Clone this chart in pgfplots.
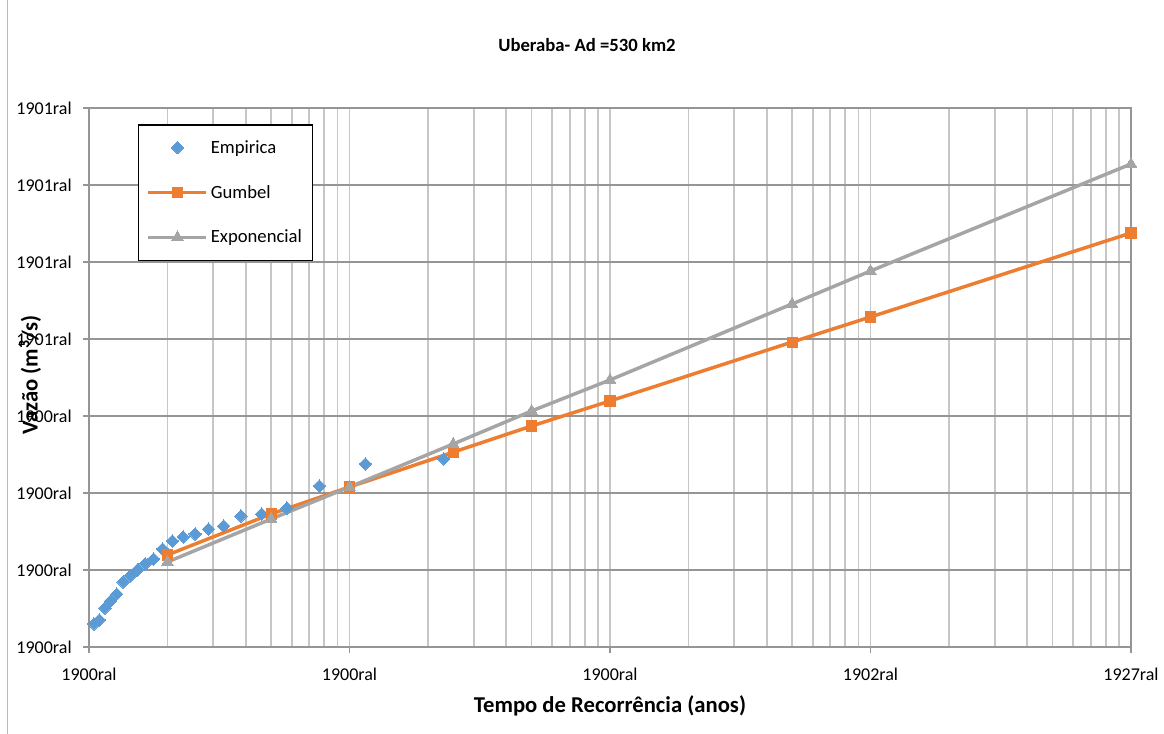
\documentclass[border=0pt]{standalone}
\usepackage{fontspec}
\setmainfont{Carlito}
\usepackage{pgfplots}
\usepackage{pgfplotstable}
\pgfplotsset{compat=1.18}

\definecolor{empblue}{HTML}{5B9BD5}
\definecolor{gumorange}{HTML}{ED7D31}
\definecolor{expgray}{HTML}{A5A5A5}
\definecolor{hgrid}{HTML}{959595}
\definecolor{vgrid}{HTML}{C6C6C6}

% Empirical return periods T = (n+1)/m, n = 22
\pgfplotstableread{
T      Q
23     244.2
11.5   237.7
7.667  209.1
5.75   180.5
4.6    172.7
3.833  170.1
3.286  157.1
2.875  153.2
2.556  146.8
2.3    142.9
2.091  137.7
1.917  127.3
1.769  114.3
1.643  107.8
1.533  100.0
1.4375 92.2
1.353  84.4
1.278  68.8
1.2105 59.7
1.15   50.6
1.095  35.1
1.045  29.9
}\empirica

\pgfplotstableread{
T     Q
2     119.5
5     172.7
10    207.8
25    253.0
50    287.0
100   319.5
500   396.0
1000  428.6
10000 537.7
}\gumbel

\pgfplotstableread{
T     Q
2     110.4
5     166.2
10    207.8
25    263.6
50    306.5
100   346.8
500   445.5
1000  488.3
10000 627.3
}\exponencial

\begin{document}
\begin{tikzpicture}
\useasboundingbox (-66.75pt,-65.25pt) rectangle (806.25pt,485.25pt);
\draw[gray!55, line width=0.75pt] (-60.75pt,-65.25pt) -- (-60.75pt,485.25pt);
\begin{axis}[
  at={(0pt,0pt)}, anchor=south west,
  scale only axis, width=781.5pt, height=404.25pt,
  xmode=log, log basis x=10,
  xmin=1, xmax=10000, ymin=0, ymax=700,
  clip=false,
  xtick={1,10,100,1000,10000},
  xticklabels={1900ral,1900ral,1900ral,1902ral,1927ral},
  minor xtick={2,3,4,5,6,7,8,9,20,30,40,50,60,70,80,90,200,300,400,500,600,700,800,900,2000,3000,4000,5000,6000,7000,8000,9000},
  ytick={0,100,200,300,400,500,600,700},
  yticklabels={1900ral,1900ral,1900ral,1900ral,1901ral,1901ral,1901ral,1901ral},
  xmajorgrids=true, xminorgrids=true, ymajorgrids=true,
  major x grid style={vgrid, line width=1.3pt},
  minor x grid style={vgrid, line width=1.3pt},
  major y grid style={hgrid, line width=1pt},
  axis line style={hgrid, line width=1pt},
  tick align=outside, major tick length=4.5pt, minor tick length=0pt,
  tick style={hgrid, line width=1pt},
  xtick pos=bottom, ytick pos=left,
  ticklabel style={font=\fontsize{13.5}{16}\selectfont},
  yticklabel style={xshift=-5pt},
  xticklabel style={yshift=-8pt},
  legend style={at={(0.047,0.970)}, anchor=north west, draw=black,
    line width=1.1pt, fill=white, font=\fontsize{14}{16}\selectfont,
    row sep=18.5pt, inner xsep=6pt, inner ysep=9.5pt},
  legend cell align=left,
  legend image code/.code={\draw[mark repeat=2,mark phase=2,#1] plot coordinates {(0pt,0pt) (21.75pt,0pt) (43.5pt,0pt)};},
]
\addplot[empblue, only marks, mark=square*, mark size=3.3pt,
  mark options={rotate=45, fill=empblue, draw=empblue, line width=0pt}]
  table[x=T, y=Q]{\empirica};
\addlegendentry{Empirica}
\addplot[gumorange, line width=2.6pt, mark=square*, mark size=3.8pt,
  mark options={solid, fill=gumorange, draw=gumorange, line width=0pt}]
  table[x=T, y=Q]{\gumbel};
\addlegendentry{Gumbel}
\addplot[expgray, line width=2.6pt, mark=triangle*, mark size=5pt,
  mark options={solid, fill=expgray, draw=expgray, line width=0pt}]
  table[x=T, y=Q]{\exponencial};
\addlegendentry{Exponencial}
\end{axis}
\node[font=\bfseries\fontsize{14}{16}\selectfont] at (373.5pt,451.5pt) {Uberaba- Ad =530 km2};
\node[font=\bfseries\fontsize{17}{20}\selectfont] at (390.75pt,-44.25pt) {Tempo de Recorrência (anos)};
\node[rotate=90, font=\bfseries\fontsize{17}{20}\selectfont] at (-44.25pt,204pt) {Vazão (m\textsuperscript{3}/s)};
\end{tikzpicture}
\end{document}
